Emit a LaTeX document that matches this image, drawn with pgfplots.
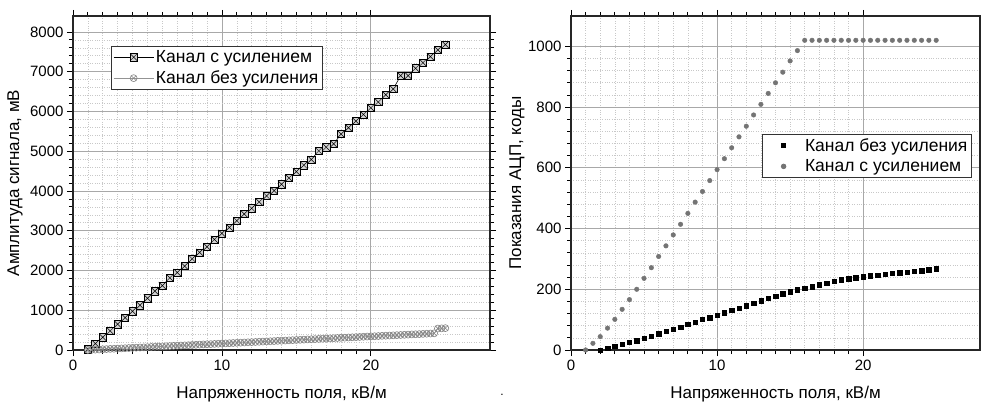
\documentclass[border=0pt]{standalone}
\usepackage{pgfplots}
\pgfplotsset{compat=1.18}
\usepackage{fontspec}
\setmainfont{Liberation Sans}
\usetikzlibrary{plotmarks}

% square with a cross inside, as in the original plot
\pgfdeclareplotmark{boxx}{%
  \pgfpathrectangle{\pgfqpoint{-\pgfplotmarksize}{-\pgfplotmarksize}}{\pgfqpoint{2\pgfplotmarksize}{2\pgfplotmarksize}}%
  \pgfusepathqfillstroke
  \pgfpathmoveto{\pgfqpoint{-\pgfplotmarksize}{-\pgfplotmarksize}}%
  \pgfpathlineto{\pgfqpoint{\pgfplotmarksize}{\pgfplotmarksize}}%
  \pgfpathmoveto{\pgfqpoint{-\pgfplotmarksize}{\pgfplotmarksize}}%
  \pgfpathlineto{\pgfqpoint{\pgfplotmarksize}{-\pgfplotmarksize}}%
  \pgfusepathqstroke}

\definecolor{gridmaj}{HTML}{A8A8A8}
\definecolor{gridmin}{HTML}{C8C8C8}
\definecolor{dotgray}{HTML}{747474}

\pgfplotsset{
  panel/.style={
    scale only axis, height=334pt,
    xmin=0, xmax=28,
    xtick={0,10,20}, minor x tick num=9,
    tick align=outside, tick pos=both,
    xticklabel pos=lower, yticklabel pos=left,
    major tick length=6pt, minor tick length=4pt,
    every tick/.style={black, line width=0.8pt},
    axis line style={black!85, line width=1.2pt},
    grid=both,
    major grid style={gridmaj, line width=0.8pt},
    minor grid style={gridmin, dotted, line width=0.6pt},
    tick label style={font=\fontsize{15}{17}\selectfont},
    /pgf/number format/assume math mode=true,
    /pgf/number format/1000 sep={},
    label style={font=\fontsize{17}{20}\selectfont},
    xlabel style={at={(axis description cs:0.5,0)}, anchor=center, yshift=-44pt},
    legend style={font=\fontsize{17.5}{21}\selectfont, draw=black!80, line width=0.8pt,
      fill=white, inner sep=2pt, row sep=3pt},
    legend cell align=left,
    xlabel={Напряженность поля, кВ/м},
  },
  % marker-only legend image, with room on both sides of the marker
  dotkey/.style={legend image code/.code={%
    \path (0pt,0pt) (38pt,0pt);
    \draw[mark repeat=2, mark phase=2, ##1] plot coordinates {(0pt,0pt) (19pt,0pt) (38pt,0pt)};}},
}

\begin{document}
\begin{tikzpicture}
\begin{axis}[panel,
  at={(0pt,0pt)}, anchor=south west,
  width=417pt,
  ymin=0, ymax=8400,
  ytick={0,1000,...,8000}, minor y tick num=4,
  ylabel={Амплитуда сигнала, мВ},
  ylabel style={at={([xshift=-58pt]axis description cs:0,0.5)}, anchor=center},
  legend style={at={(axis description cs:0.091,0.91)}, anchor=north west},
  legend image code/.code={%
    \draw[mark repeat=2, mark phase=2, #1] plot coordinates {(0pt,0pt) (20pt,0pt) (40pt,0pt)};},
]
\addplot[black, line width=0.6pt, mark=boxx, mark size=3.6pt,
  mark options={fill=gray!35, draw=black, line width=0.5pt}] coordinates {
  (1,20) (1.5,160) (2,320) (2.5,480) (3,650) (3.5,815) (4,975) (4.5,1126)
  (5,1300) (5.5,1480) (6,1620) (6.5,1815) (7,1950) (7.5,2110) (8,2294)
  (8.5,2454) (9,2597) (9.5,2782) (10,2933) (10.5,3084) (11,3252) (11.5,3420)
  (12,3563) (12.5,3723) (13,3874) (13.5,4008) (14,4168) (14.5,4328) (15,4487)
  (15.5,4647) (16,4790) (16.5,5008) (17,5101) (17.5,5185) (18,5429) (18.5,5588)
  (19,5756) (19.5,5924) (20,6092) (20.5,6235) (21,6420) (21.5,6563) (22,6899)
  (22.5,6899) (23,7084) (23.5,7227) (24,7378) (24.5,7546) (25,7681)
};
\addlegendentry{Канал с усилением}
\addplot[gray!85, line width=0.6pt, mark=otimes, mark size=3.5pt,
  mark options={draw=gray!95, line width=0.6pt}] coordinates {
  (1,0) (1.25,4) (1.5,9) (1.75,13) (2,18) (2.25,23) (2.5,28) (2.75,32)
  (3,36) (3.25,40) (3.5,45) (3.75,50) (4,55) (4.25,59) (4.5,63) (4.75,67)
  (5,72) (5.25,77) (5.5,82) (5.75,86) (6,90) (6.25,94) (6.5,99) (6.75,104)
  (7,109) (7.25,113) (7.5,117) (7.75,121) (8,126) (8.25,131) (8.5,136) (8.75,140)
  (9,144) (9.25,148) (9.5,153) (9.75,158) (10,162) (10.25,166) (10.5,171) (10.75,176)
  (11,180) (11.25,184) (11.5,189) (11.75,194) (12,198) (12.25,202) (12.5,207) (12.75,212)
  (13,216) (13.25,220) (13.5,225) (13.75,230) (14,234) (14.25,238) (14.5,243) (14.75,248)
  (15,252) (15.25,256) (15.5,261) (15.75,266) (16,270) (16.25,274) (16.5,279) (16.75,284)
  (17,288) (17.25,292) (17.5,297) (17.75,302) (18,306) (18.25,310) (18.5,315) (18.75,320)
  (19,324) (19.25,328) (19.5,333) (19.75,338) (20,342) (20.25,346) (20.5,351) (20.75,356)
  (21,360) (21.25,364) (21.5,369) (21.75,374) (22,378) (22.25,382) (22.5,387) (22.75,392)
  (23,396) (23.25,400) (23.5,405) (23.75,410) (24,414) (24.25,419)
  (24.5,540) (24.75,545) (25,550)
};
\addlegendentry{Канал без усиления}
\end{axis}

\begin{axis}[panel,
  at={(498pt,0pt)}, anchor=south west,
  width=409pt,
  ymin=0, ymax=1100,
  ytick={0,200,...,1000}, minor y tick num=4,
  ylabel={Показания АЦП, коды},
  ylabel style={at={([xshift=-54pt]axis description cs:0,0.5)}, anchor=center},
  legend style={at={(axis description cs:0.98,0.647)}, anchor=north east},
]
\addplot[only marks, mark=square*, mark size=2.2pt, black, dotkey] coordinates {
  (2,0) (2.5,5) (3,13) (3.5,19) (4,25) (4.5,31) (5,39) (5.5,46) (6,54) (6.5,61)
  (7,69) (7.5,76) (8,85) (8.5,92) (9,101) (9.5,107) (10,115) (10.5,123) (11,131)
  (11.5,138) (12,146) (12.5,154) (13,162) (13.5,170) (14,177) (14.5,185) (15,192)
  (15.5,198) (16,204) (16.5,209) (17,215) (17.5,220) (18,226) (18.5,232) (19,235)
  (19.5,238) (20,242) (20.5,245) (21,247) (21.5,249) (22,253) (22.5,255) (23,257)
  (23.5,259) (24,261) (24.5,264) (25,268)
};
\addlegendentry{Канал без усиления}
\addplot[only marks, mark=*, mark size=2.3pt, dotgray, dotkey] coordinates {
  (1,0) (1.5,22) (2,44) (2.5,72) (3,101) (3.5,134) (4,166) (4.5,200) (5,236)
  (5.5,271) (6,308) (6.5,343) (7,379) (7.5,414) (8,450) (8.5,487) (9,522)
  (9.5,558) (10,594) (10.5,630) (11,666) (11.5,702) (12,737) (12.5,774) (13,809)
  (13.5,845) (14,880) (14.5,915) (15,952) (15.5,986) (16,1020) (16.5,1020)
  (17,1020) (17.5,1020) (18,1020) (18.5,1020) (19,1020) (19.5,1020) (20,1020)
  (20.5,1020) (21,1020) (21.5,1020) (22,1020) (22.5,1020) (23,1020) (23.5,1020)
  (24,1020) (24.5,1020) (25,1020)
};
\addlegendentry{Канал с усилением}
\end{axis}
\node[font=\fontsize{12}{14}\selectfont] at (429pt,-45pt) {.};
\pgfresetboundingbox
\useasboundingbox (-73pt,-51pt) rectangle (908pt,350pt);
\end{tikzpicture}
\end{document}
